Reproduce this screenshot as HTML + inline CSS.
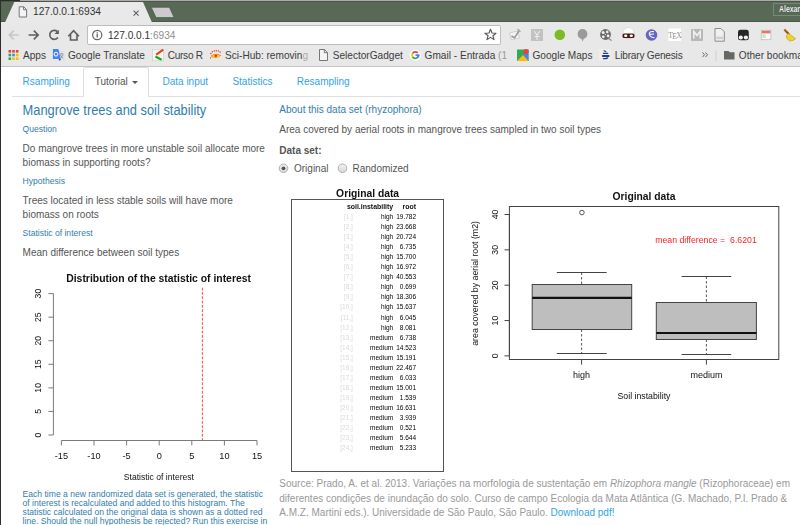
<!DOCTYPE html>
<html><head><meta charset="utf-8"><title>Rsampling</title>
<style>
html,body{margin:0;padding:0;background:#fff;overflow:hidden;width:800px;height:525px}
body{position:relative;font-family:'Liberation Sans', sans-serif;}
</style></head><body>
<div style="position:absolute;left:0px;top:0px;width:800px;height:1px;background:#afa8af"></div>
<div style="position:absolute;left:0px;top:0px;width:20px;height:1px;background:#2b2b2b"></div>
<div style="position:absolute;left:0px;top:1px;width:800px;height:21px;background:#586a56"></div>
<div style="position:absolute;left:0px;top:1px;width:800px;height:1px;background:#4a5946"></div>
<div style="position:absolute;left:0px;top:21px;width:800px;height:1px;background:#4b5a48"></div>
<div style="position:absolute;left:0px;top:22px;width:800px;height:44px;background:#e8e8e8"></div>
<div style="position:absolute;left:0px;top:66px;width:800px;height:1px;background:#c4c4c4"></div>
<svg style="position:absolute;left:0;top:0" width="800" height="30">
<polygon points="5,22.5 14.3,2 143,2 152,22.5" fill="#e9e9e9"/>
<polygon points="151.2,7.2 169.4,7.2 174.2,17.6 156,17.6" fill="#cbcbcb" stroke="#4d5c49" stroke-width="0.8"/>
<rect x="773.5" y="3.5" width="40" height="12" fill="none" stroke="#78897a" stroke-width="1"/>
</svg>
<div style="position:absolute;left:778.50px;top:4.92px;font-size:8.6px;line-height:8.6px;color:#f4f4f4;font-weight:bold;white-space:pre;text-shadow:0 0 1px #2a2a2a;transform:scaleX(0.8);transform-origin:0 0;">Alexan</div>
<svg style="position:absolute;left:18px;top:6px" width="10" height="12" viewBox="0 0 10 12">
<path d="M1.2,0.8 H5.8 L8.6,3.6 V11 H1.2 Z" fill="#f4f4f4" stroke="#777" stroke-width="1"/>
<path d="M5.6,0.8 V3.8 H8.6" fill="none" stroke="#777" stroke-width="1"/></svg>
<div style="position:absolute;left:33.00px;top:7.12px;font-size:10.2px;line-height:10.2px;color:#333;font-weight:normal;white-space:pre;">127.0.0.1:6934</div>
<svg style="position:absolute;left:133px;top:9.5px" width="7" height="7"><path d="M0.6,0.6 L5.6,5.6 M5.6,0.6 L0.6,5.6" stroke="#606060" stroke-width="1.1"/></svg>
<svg style="position:absolute;left:0;top:0" width="90" height="46">
<g fill="none" stroke-width="1.6">
<path d="M9.3,35 H18.6 M13.6,30.6 L9.3,35 L13.6,39.4" stroke="#c6c6c6"/>
<path d="M28.6,35 H38.2 M33.8,30.6 L38.2,35 L33.8,39.4" stroke="#5b605a"/>
<path d="M57.9,37.5 A4.5,4.5 0 1 1 57.4,31.6" stroke="#5b605a"/>
<path d="M68.3,36.2 L73.6,30.6 L78.9,36.2 M70.5,34.2 V40 H77 V34.2" stroke="#5b605a"/>
</g>
<path d="M58.9,29.7 V34.1 H54.5 Z" fill="#5b605a"/>
</svg>
<div style="position:absolute;left:87px;top:25px;width:414px;height:19.5px;background:#fff;border:1px solid #bdbdbd;border-radius:2px;box-sizing:border-box"></div>
<svg style="position:absolute;left:91px;top:29px" width="13" height="13"><circle cx="6.2" cy="6" r="4.6" fill="none" stroke="#666" stroke-width="1.2"/><path d="M6.2,4.5 V8.6" stroke="#555" stroke-width="1.2"/><circle cx="6.2" cy="3.3" r="0.6" fill="#555"/></svg>
<div style="position:absolute;left:108.00px;top:31.20px;font-size:10.1px;line-height:10.1px;color:#333;font-weight:normal;white-space:pre;">127.0.0.1<span style="color:#8e8e8e">:6934</span></div>
<svg style="position:absolute;left:484px;top:28px" width="13" height="13"><path d="M6.5,1.2 L8,5 L12,5.2 L8.9,7.7 L10,11.6 L6.5,9.4 L3,11.6 L4.1,7.7 L1,5.2 L5,5 Z" fill="none" stroke="#555" stroke-width="1.1" stroke-linejoin="round"/></svg>
<svg style="position:absolute;left:500px;top:24px" width="300" height="22">
<g transform="translate(514.5,11) translate(-500,0)"><path d="M-5,-2 L3,-4 L5,3 L-3,5 Z" fill="#f4f4f4" stroke="#c8c8c8" stroke-width="0.8"/><path d="M-3,1 L0,3 L5,-5" stroke="#9a9a9a" stroke-width="1.6" fill="none"/><path d="M3,-6 L6,-3" stroke="#aaa" stroke-width="1.4"/></g>
<g transform="translate(37,11)"><rect x="-6" y="-6" width="12" height="12" fill="#c2c2c2"/><path d="M-3,-4 L0,0 L3,-4 M0,0 V5 M-2.5,1.5 H2.5" stroke="#ececec" stroke-width="1.1" fill="none"/></g>
<circle cx="59.8" cy="10.8" r="5.3" fill="#7cbb26"/>
<g transform="translate(82.5,10.5)"><circle cx="0" cy="-0.5" r="4.9" fill="#9a9a9a"/><path d="M-1.5,3 L0,7 L1.8,3 Z" fill="#9a9a9a"/></g>
<g transform="translate(105.5,10.5)"><circle cx="0" cy="0" r="5.4" fill="#6a6a6a"/><circle cx="-2.3" cy="-2" r="1.5" fill="#f0f0f0"/><circle cx="1.8" cy="-2.6" r="1.3" fill="#f0f0f0"/><circle cx="-2.2" cy="2.3" r="1.4" fill="#f0f0f0"/><circle cx="2.6" cy="1.4" r="1.4" fill="#f0f0f0"/><circle cx="0" cy="0" r="0.6" fill="#f0f0f0"/><path d="M3,4 L6,6" stroke="#888" stroke-width="1.3"/></g>
<g transform="translate(128.5,11)"><path d="M-5.5,-0.5 Q-5.5,-7.5 0,-7.5 Q5.5,-7.5 5.5,-0.5 Z" fill="#fbfbfb" stroke="#cfcfcf" stroke-width="0.5"/><rect x="-6" y="-1.6" width="12" height="4.6" rx="1.6" fill="#4a1714"/><ellipse cx="-2.8" cy="0.7" rx="1.7" ry="1.2" fill="#fff"/><ellipse cx="2.8" cy="0.7" rx="1.7" ry="1.2" fill="#fff"/><path d="M-4,3 Q0,6 4,3 Z" fill="#d6d6d6"/></g>
<circle cx="151.5" cy="11" r="5.8" fill="#6464c2"/><path d="M154,7.6 Q148.5,7 149.3,10.3 Q150,13.2 154.5,13.8 M149.6,10.4 L154,10" stroke="#f4f4ff" stroke-width="1.1" fill="none"/>
<rect x="168.5" y="4.5" width="12.5" height="12.5" fill="#fff"/><text x="174.7" y="13.5" font-family="Liberation Serif" font-size="7.6" text-anchor="middle" fill="#8a8a8a" letter-spacing="-0.6">T<tspan dy="1.2">E</tspan><tspan dy="-1.2">X</tspan></text>
<rect x="191" y="5" width="12" height="12" rx="0.8" fill="#b8b8b8"/><path d="M193.8,14.5 V7.5 L197,11.5 L200.2,7.5 V14.5" stroke="#f2f2f2" stroke-width="1.5" fill="none"/>
<path d="M215,4.5 H221 L224.3,7.8 V17.2 H215 Z" fill="#f0f0f0" stroke="#8a8a8a" stroke-width="1"/><rect x="216.3" y="12.6" width="6.7" height="2.6" fill="#cfcfcf"/>
<rect x="238" y="5.7" width="10.8" height="10.6" rx="2.4" fill="#262626"/><circle cx="240.8" cy="13.5" r="2.1" fill="#f2f2f2"/><circle cx="245.9" cy="13.5" r="2.1" fill="#f2f2f2"/>
<rect x="261.3" y="6.3" width="9.6" height="9.4" fill="#fafafa" stroke="#bdbdbd" stroke-width="0.8"/><rect x="261.8" y="6.8" width="8.6" height="2.6" fill="#f07070"/><rect x="262.5" y="10.6" width="3.2" height="1" fill="#8fd88f"/><rect x="262.5" y="12.6" width="3.2" height="1" fill="#8fd88f"/>
<path d="M284.3,5.6 L288.2,9.6" stroke="#a0601a" stroke-width="2.2"/><path d="M287,8.2 L289.7,10.8" stroke="#c0392b" stroke-width="1.6"/><path d="M288.4,9.2 L291.5,11.6 L295.6,14.8 L293,16.4 L289.5,17 L286.6,14.2 L286.4,11.5 Z" fill="#ecd42c" stroke="#b89a10" stroke-width="0.6"/>
</svg>
<svg style="position:absolute;left:0;top:44px" width="800" height="22">
<g>
<rect x="8.5" y="6" width="2.6" height="2.6" fill="#e94235"/><rect x="12.2" y="6" width="2.6" height="2.6" fill="#e94235"/><rect x="15.9" y="6" width="2.6" height="2.6" fill="#e94235"/>
<rect x="8.5" y="9.7" width="2.6" height="2.6" fill="#34a853"/><rect x="12.2" y="9.7" width="2.6" height="2.6" fill="#4285f4"/><rect x="15.9" y="9.7" width="2.6" height="2.6" fill="#fbbc05"/>
<rect x="8.5" y="13.4" width="2.6" height="2.6" fill="#34a853"/><rect x="12.2" y="13.4" width="2.6" height="2.6" fill="#fbbc05"/><rect x="15.9" y="13.4" width="2.6" height="2.6" fill="#fbbc05"/>
</g>
<rect x="58.4" y="7" width="6.4" height="9.6" fill="#e2e2e2"/><path d="M60,10 H63.5 M61.8,9 V10 M60.5,11 L63,14.5 M63,11 L60.5,14.5" stroke="#8a8a8a" stroke-width="0.8" fill="none"/><path d="M52.9,5.1 H58.4 L60.8,15 H52.9 Z" fill="#4285f4"/><path d="M58.6,15 H61 L59.6,16.9 Z" fill="#2a47b8"/><circle cx="56" cy="10.2" r="1.9" fill="none" stroke="#fff" stroke-width="1"/>
<rect x="152.5" y="5.8" width="11" height="11" fill="#f6f6f0" stroke="#cfcfcf" stroke-width="0.7"/><path d="M156.2,10.6 L163.3,5.6" stroke="#e0461c" stroke-width="2.1"/><path d="M155.4,12.6 L161.6,15.8" stroke="#1eaa1e" stroke-width="2.3"/>
<g fill="#e8402a"><circle cx="210.9" cy="9.4" r="0.75"/><circle cx="212.4" cy="7.7" r="0.75"/><circle cx="214.3" cy="6.9" r="0.75"/><circle cx="216.3" cy="6.7" r="0.75"/><circle cx="218.3" cy="7.1" r="0.75"/><circle cx="220.1" cy="8.1" r="0.75"/></g><path d="M210.6,12.1 Q216,7.6 221.2,11.6 Q216,16.3 210.6,12.1 Z" fill="#f26a1b"/><ellipse cx="216" cy="11.9" rx="3.7" ry="1.7" fill="#f8d21a"/><circle cx="215.8" cy="11.8" r="1.3" fill="#d8321e"/><path d="M210.6,13 Q211,14.5 210.4,14.8" stroke="#e8402a" stroke-width="0.8" fill="none"/>
<path d="M319.5,5.5 H324.5 L327.5,8.5 V16.5 H319.5 Z" fill="#f4f4f4" stroke="#777" stroke-width="1"/><path d="M324.3,5.5 V8.7 H327.5" fill="none" stroke="#777" stroke-width="1"/>
<circle cx="415.3" cy="11.1" r="5.6" fill="#fff"/><path d="M418.55,11.67 A3.3,3.3 0 0 1 412.44,12.75" stroke="#34a853" stroke-width="1.7" fill="none"/><path d="M412.44,12.75 A3.3,3.3 0 0 1 412.60,9.21" stroke="#fbbc05" stroke-width="1.7" fill="none"/><path d="M412.60,9.21 A3.3,3.3 0 0 1 417.75,8.89" stroke="#ea4335" stroke-width="1.7" fill="none"/><path d="M418.60,10.98 A3.3,3.3 0 0 1 417.63,13.43" stroke="#4285f4" stroke-width="1.7" fill="none"/><path d="M415.50,11.10 H419.45" stroke="#4285f4" stroke-width="1.7"/>
<rect x="517" y="5.5" width="11.5" height="11.5" fill="#34a853"/><path d="M517,17 L528.5,5.5 L528.5,17 Z" fill="#4285f4"/><path d="M517,17 L523,11 L528.5,17 Z" fill="#fbbc05"/><circle cx="526" cy="7.5" r="2.6" fill="#ea4335"/>
<rect x="599.2" y="5" width="11.7" height="11.9" fill="#efefe2"/><g stroke="#1d3c9c" fill="none" stroke-linecap="round"><path d="M604,6.8 L605.8,7.6" stroke-width="1.1"/><path d="M603.4,9.3 H607.8" stroke-width="1.2"/><path d="M602.8,11.9 H608.6" stroke-width="2"/><path d="M603.4,14.6 Q606,14.9 607.6,13.9" stroke-width="1.3"/></g>
<path d="M702.5,8.5 L704.5,10.8 L702.5,13 M705.5,8.5 L707.5,10.8 L705.5,13" stroke="#666" stroke-width="1" fill="none"/>
<rect x="715.5" y="6" width="1" height="11.5" fill="#cfcfcf"/>
<path d="M724,7 H728.5 L729.8,8.3 H734.5 V15.5 H724 Z" fill="#646a62"/>
</svg>
<div style="position:absolute;left:23.00px;top:51.25px;font-size:10.1px;line-height:10.1px;color:#3c3c3c;font-weight:normal;white-space:pre;">Apps</div>
<div style="position:absolute;left:68.00px;top:51.25px;font-size:10.1px;line-height:10.1px;color:#3c3c3c;font-weight:normal;white-space:pre;">Google Translate</div>
<div style="position:absolute;left:167.70px;top:51.25px;font-size:10.1px;line-height:10.1px;color:#3c3c3c;font-weight:normal;white-space:pre;letter-spacing:-0.28px;">Curso R</div>
<div style="position:absolute;left:225.00px;top:51.25px;font-size:10.1px;line-height:10.1px;color:#3c3c3c;font-weight:normal;white-space:pre;">Sci-Hub: removin<span style="color:#aaa">g</span></div>
<div style="position:absolute;left:332.70px;top:51.25px;font-size:10.1px;line-height:10.1px;color:#3c3c3c;font-weight:normal;white-space:pre;">SelectorGadget</div>
<div style="position:absolute;left:424.60px;top:51.25px;font-size:10.1px;line-height:10.1px;color:#3c3c3c;font-weight:normal;white-space:pre;">Gmail - Entrada <span style="color:#999">(1</span></div>
<div style="position:absolute;left:532.50px;top:51.25px;font-size:10.1px;line-height:10.1px;color:#3c3c3c;font-weight:normal;white-space:pre;">Google Maps</div>
<div style="position:absolute;left:614.80px;top:51.25px;font-size:10.1px;line-height:10.1px;color:#3c3c3c;font-weight:normal;white-space:pre;letter-spacing:-0.2px;">Library Genesis</div>
<div style="position:absolute;left:738.80px;top:51.25px;font-size:10.1px;line-height:10.1px;color:#3c3c3c;font-weight:normal;white-space:pre;">Other bookmarks</div>
<div style="position:absolute;left:11.7px;top:96px;width:789px;height:1px;background:#e0e0e0"></div>
<div style="position:absolute;left:83.3px;top:66.6px;width:65.6px;height:30.4px;background:#fff;border:1px solid #ddd;border-bottom-color:#fff;border-radius:3px 3px 0 0;box-sizing:border-box"></div>
<div style="position:absolute;left:22.60px;top:76.83px;font-size:10px;line-height:10px;color:#2fa4e7;font-weight:normal;white-space:pre;">Rsampling</div>
<div style="position:absolute;left:94.80px;top:76.83px;font-size:10px;line-height:10px;color:#555;font-weight:normal;white-space:pre;">Tutorial</div>
<div style="position:absolute;left:132px;top:81px;width:0;height:0;border-left:3px solid transparent;border-right:3px solid transparent;border-top:3px solid #555"></div>
<div style="position:absolute;left:162.50px;top:76.83px;font-size:10px;line-height:10px;color:#2fa4e7;font-weight:normal;white-space:pre;">Data input</div>
<div style="position:absolute;left:232.40px;top:76.83px;font-size:10px;line-height:10px;color:#2fa4e7;font-weight:normal;white-space:pre;">Statistics</div>
<div style="position:absolute;left:296.80px;top:76.83px;font-size:10px;line-height:10px;color:#2fa4e7;font-weight:normal;white-space:pre;">Resampling</div>
<div style="position:absolute;left:22.60px;top:104.61px;font-size:12.86px;line-height:12.86px;color:#317eac;font-weight:normal;white-space:pre;transform:scaleY(1.15);transform-origin:0 84.65%;">Mangrove trees and soil stability</div>
<div style="position:absolute;left:22.60px;top:125.35px;font-size:8.57px;line-height:8.57px;color:#317eac;font-weight:normal;white-space:pre;">Question</div>
<div style="position:absolute;left:22.60px;top:143.83px;font-size:10px;line-height:10px;color:#555;font-weight:normal;white-space:pre;">Do mangrove trees in more unstable soil allocate more</div>
<div style="position:absolute;left:22.60px;top:158.13px;font-size:10px;line-height:10px;color:#555;font-weight:normal;white-space:pre;">biomass in supporting roots?</div>
<div style="position:absolute;left:22.60px;top:177.05px;font-size:8.57px;line-height:8.57px;color:#317eac;font-weight:normal;white-space:pre;">Hypothesis</div>
<div style="position:absolute;left:22.60px;top:195.88px;font-size:10px;line-height:10px;color:#555;font-weight:normal;white-space:pre;">Trees located in less stable soils will have more</div>
<div style="position:absolute;left:22.60px;top:210.23px;font-size:10px;line-height:10px;color:#555;font-weight:normal;white-space:pre;">biomass on roots</div>
<div style="position:absolute;left:22.60px;top:229.45px;font-size:8.57px;line-height:8.57px;color:#317eac;font-weight:normal;white-space:pre;">Statistic of interest</div>
<div style="position:absolute;left:22.60px;top:248.34px;font-size:10px;line-height:10px;color:#555;font-weight:normal;white-space:pre;">Mean difference between soil types</div>
<div style="position:absolute;left:22.60px;top:489.85px;font-size:8.57px;line-height:8.57px;color:#317eac;font-weight:normal;white-space:pre;">Each time a new randomized data set is generated, the statistic</div>
<div style="position:absolute;left:22.60px;top:498.95px;font-size:8.57px;line-height:8.57px;color:#317eac;font-weight:normal;white-space:pre;">of interest is recalculated and added to this histogram. The</div>
<div style="position:absolute;left:22.60px;top:508.05px;font-size:8.57px;line-height:8.57px;color:#317eac;font-weight:normal;white-space:pre;">statistic calculated on the original data is shown as a dotted red</div>
<div style="position:absolute;left:22.60px;top:517.15px;font-size:8.57px;line-height:8.57px;color:#317eac;font-weight:normal;white-space:pre;">line. Should the null hypothesis be rejected? Run this exercise in</div>
<div style="position:absolute;left:279.30px;top:105.13px;font-size:10px;line-height:10px;color:#317eac;font-weight:normal;white-space:pre;">About this data set (rhyzophora)</div>
<div style="position:absolute;left:279.30px;top:124.94px;font-size:10px;line-height:10px;color:#555;font-weight:normal;white-space:pre;">Area covered by aerial roots in mangrove trees sampled in two soil types</div>
<div style="position:absolute;left:279.30px;top:145.73px;font-size:10px;line-height:10px;color:#555;font-weight:bold;white-space:pre;">Data set:</div>
<svg style="position:absolute;left:277px;top:162px" width="72" height="13">
<defs><linearGradient id="rg" x1="0" y1="0" x2="0" y2="1"><stop offset="0" stop-color="#f2f2f2"/><stop offset="1" stop-color="#d8d8d8"/></linearGradient></defs>
<circle cx="6.5" cy="6.3" r="4.3" fill="url(#rg)" stroke="#a8a8a8" stroke-width="0.9"/><circle cx="6.5" cy="6.3" r="1.9" fill="#555"/>
<circle cx="65.5" cy="6.3" r="4.3" fill="url(#rg)" stroke="#a8a8a8" stroke-width="0.9"/>
</svg>
<div style="position:absolute;left:294.00px;top:164.03px;font-size:10px;line-height:10px;color:#555;font-weight:normal;white-space:pre;">Original</div>
<div style="position:absolute;left:352.50px;top:164.03px;font-size:10px;line-height:10px;color:#555;font-weight:normal;white-space:pre;">Randomized</div>
<div style="position:absolute;left:279.30px;top:479.04px;font-size:10px;line-height:10px;color:#999;font-weight:normal;white-space:pre;">Source: Prado, A. et al. 2013. Variações na morfologia de sustentação em <i>Rhizophora mangle</i> (Rizophoraceae) em</div>
<div style="position:absolute;left:279.30px;top:493.64px;font-size:10px;line-height:10px;color:#999;font-weight:normal;white-space:pre;">diferentes condições de inundação do solo. Curso de campo Ecologia da Mata Atlântica (G. Machado, P.I. Prado &amp;</div>
<div style="position:absolute;left:279.30px;top:508.04px;font-size:10px;line-height:10px;color:#999;font-weight:normal;white-space:pre;">A.M.Z. Martini eds.). Universidade de São Paulo, São Paulo. <span style="color:#2fa4e7">Download pdf!</span></div>
<div style="position:absolute;left:0;top:0;width:800px;height:525px;will-change:transform">
<div style="position:absolute;left:291.1px;top:199.2px;width:153.0px;height:272.6px;border:1px solid #555;box-sizing:border-box"></div>
<div style="position:absolute;left:367.60px;top:188.98px;font-size:10.3px;line-height:10.3px;color:#111;font-weight:bold;white-space:pre;transform:translateX(-50%);">Original data</div>
<div style="position:absolute;left:393.20px;top:203.72px;font-size:6.95px;line-height:6.95px;color:#111;font-weight:bold;white-space:pre;transform:translateX(-100%);">soil.instability</div>
<div style="position:absolute;left:416.10px;top:203.72px;font-size:6.95px;line-height:6.95px;color:#111;font-weight:bold;white-space:pre;transform:translateX(-100%);">root</div>
<div style="position:absolute;left:352.90px;top:214.20px;font-size:6.5px;line-height:6.5px;color:#dadada;font-weight:normal;white-space:pre;transform:translateX(-100%);">[1,]</div>
<div style="position:absolute;left:393.20px;top:214.20px;font-size:6.5px;line-height:6.5px;color:#000;font-weight:normal;white-space:pre;transform:translateX(-100%);">high</div>
<div style="position:absolute;left:416.10px;top:214.20px;font-size:6.5px;line-height:6.5px;color:#000;font-weight:normal;white-space:pre;transform:translateX(-100%);">19.782</div>
<div style="position:absolute;left:352.90px;top:224.23px;font-size:6.5px;line-height:6.5px;color:#dadada;font-weight:normal;white-space:pre;transform:translateX(-100%);">[2,]</div>
<div style="position:absolute;left:393.20px;top:224.23px;font-size:6.5px;line-height:6.5px;color:#000;font-weight:normal;white-space:pre;transform:translateX(-100%);">high</div>
<div style="position:absolute;left:416.10px;top:224.23px;font-size:6.5px;line-height:6.5px;color:#000;font-weight:normal;white-space:pre;transform:translateX(-100%);">23.668</div>
<div style="position:absolute;left:352.90px;top:234.26px;font-size:6.5px;line-height:6.5px;color:#dadada;font-weight:normal;white-space:pre;transform:translateX(-100%);">[3,]</div>
<div style="position:absolute;left:393.20px;top:234.26px;font-size:6.5px;line-height:6.5px;color:#000;font-weight:normal;white-space:pre;transform:translateX(-100%);">high</div>
<div style="position:absolute;left:416.10px;top:234.26px;font-size:6.5px;line-height:6.5px;color:#000;font-weight:normal;white-space:pre;transform:translateX(-100%);">20.724</div>
<div style="position:absolute;left:352.90px;top:244.29px;font-size:6.5px;line-height:6.5px;color:#dadada;font-weight:normal;white-space:pre;transform:translateX(-100%);">[4,]</div>
<div style="position:absolute;left:393.20px;top:244.29px;font-size:6.5px;line-height:6.5px;color:#000;font-weight:normal;white-space:pre;transform:translateX(-100%);">high</div>
<div style="position:absolute;left:416.10px;top:244.29px;font-size:6.5px;line-height:6.5px;color:#000;font-weight:normal;white-space:pre;transform:translateX(-100%);">6.735</div>
<div style="position:absolute;left:352.90px;top:254.32px;font-size:6.5px;line-height:6.5px;color:#dadada;font-weight:normal;white-space:pre;transform:translateX(-100%);">[5,]</div>
<div style="position:absolute;left:393.20px;top:254.32px;font-size:6.5px;line-height:6.5px;color:#000;font-weight:normal;white-space:pre;transform:translateX(-100%);">high</div>
<div style="position:absolute;left:416.10px;top:254.32px;font-size:6.5px;line-height:6.5px;color:#000;font-weight:normal;white-space:pre;transform:translateX(-100%);">15.700</div>
<div style="position:absolute;left:352.90px;top:264.35px;font-size:6.5px;line-height:6.5px;color:#dadada;font-weight:normal;white-space:pre;transform:translateX(-100%);">[6,]</div>
<div style="position:absolute;left:393.20px;top:264.35px;font-size:6.5px;line-height:6.5px;color:#000;font-weight:normal;white-space:pre;transform:translateX(-100%);">high</div>
<div style="position:absolute;left:416.10px;top:264.35px;font-size:6.5px;line-height:6.5px;color:#000;font-weight:normal;white-space:pre;transform:translateX(-100%);">16.972</div>
<div style="position:absolute;left:352.90px;top:274.38px;font-size:6.5px;line-height:6.5px;color:#dadada;font-weight:normal;white-space:pre;transform:translateX(-100%);">[7,]</div>
<div style="position:absolute;left:393.20px;top:274.38px;font-size:6.5px;line-height:6.5px;color:#000;font-weight:normal;white-space:pre;transform:translateX(-100%);">high</div>
<div style="position:absolute;left:416.10px;top:274.38px;font-size:6.5px;line-height:6.5px;color:#000;font-weight:normal;white-space:pre;transform:translateX(-100%);">40.553</div>
<div style="position:absolute;left:352.90px;top:284.41px;font-size:6.5px;line-height:6.5px;color:#dadada;font-weight:normal;white-space:pre;transform:translateX(-100%);">[8,]</div>
<div style="position:absolute;left:393.20px;top:284.41px;font-size:6.5px;line-height:6.5px;color:#000;font-weight:normal;white-space:pre;transform:translateX(-100%);">high</div>
<div style="position:absolute;left:416.10px;top:284.41px;font-size:6.5px;line-height:6.5px;color:#000;font-weight:normal;white-space:pre;transform:translateX(-100%);">0.699</div>
<div style="position:absolute;left:352.90px;top:294.44px;font-size:6.5px;line-height:6.5px;color:#dadada;font-weight:normal;white-space:pre;transform:translateX(-100%);">[9,]</div>
<div style="position:absolute;left:393.20px;top:294.44px;font-size:6.5px;line-height:6.5px;color:#000;font-weight:normal;white-space:pre;transform:translateX(-100%);">high</div>
<div style="position:absolute;left:416.10px;top:294.44px;font-size:6.5px;line-height:6.5px;color:#000;font-weight:normal;white-space:pre;transform:translateX(-100%);">18.306</div>
<div style="position:absolute;left:352.90px;top:304.47px;font-size:6.5px;line-height:6.5px;color:#dadada;font-weight:normal;white-space:pre;transform:translateX(-100%);">[10,]</div>
<div style="position:absolute;left:393.20px;top:304.47px;font-size:6.5px;line-height:6.5px;color:#000;font-weight:normal;white-space:pre;transform:translateX(-100%);">high</div>
<div style="position:absolute;left:416.10px;top:304.47px;font-size:6.5px;line-height:6.5px;color:#000;font-weight:normal;white-space:pre;transform:translateX(-100%);">15.637</div>
<div style="position:absolute;left:352.90px;top:314.50px;font-size:6.5px;line-height:6.5px;color:#dadada;font-weight:normal;white-space:pre;transform:translateX(-100%);">[11,]</div>
<div style="position:absolute;left:393.20px;top:314.50px;font-size:6.5px;line-height:6.5px;color:#000;font-weight:normal;white-space:pre;transform:translateX(-100%);">high</div>
<div style="position:absolute;left:416.10px;top:314.50px;font-size:6.5px;line-height:6.5px;color:#000;font-weight:normal;white-space:pre;transform:translateX(-100%);">6.045</div>
<div style="position:absolute;left:352.90px;top:324.53px;font-size:6.5px;line-height:6.5px;color:#dadada;font-weight:normal;white-space:pre;transform:translateX(-100%);">[12,]</div>
<div style="position:absolute;left:393.20px;top:324.53px;font-size:6.5px;line-height:6.5px;color:#000;font-weight:normal;white-space:pre;transform:translateX(-100%);">high</div>
<div style="position:absolute;left:416.10px;top:324.53px;font-size:6.5px;line-height:6.5px;color:#000;font-weight:normal;white-space:pre;transform:translateX(-100%);">8.081</div>
<div style="position:absolute;left:352.90px;top:334.56px;font-size:6.5px;line-height:6.5px;color:#dadada;font-weight:normal;white-space:pre;transform:translateX(-100%);">[13,]</div>
<div style="position:absolute;left:393.20px;top:334.56px;font-size:6.5px;line-height:6.5px;color:#000;font-weight:normal;white-space:pre;transform:translateX(-100%);">medium</div>
<div style="position:absolute;left:416.10px;top:334.56px;font-size:6.5px;line-height:6.5px;color:#000;font-weight:normal;white-space:pre;transform:translateX(-100%);">6.738</div>
<div style="position:absolute;left:352.90px;top:344.59px;font-size:6.5px;line-height:6.5px;color:#dadada;font-weight:normal;white-space:pre;transform:translateX(-100%);">[14,]</div>
<div style="position:absolute;left:393.20px;top:344.59px;font-size:6.5px;line-height:6.5px;color:#000;font-weight:normal;white-space:pre;transform:translateX(-100%);">medium</div>
<div style="position:absolute;left:416.10px;top:344.59px;font-size:6.5px;line-height:6.5px;color:#000;font-weight:normal;white-space:pre;transform:translateX(-100%);">14.523</div>
<div style="position:absolute;left:352.90px;top:354.62px;font-size:6.5px;line-height:6.5px;color:#dadada;font-weight:normal;white-space:pre;transform:translateX(-100%);">[15,]</div>
<div style="position:absolute;left:393.20px;top:354.62px;font-size:6.5px;line-height:6.5px;color:#000;font-weight:normal;white-space:pre;transform:translateX(-100%);">medium</div>
<div style="position:absolute;left:416.10px;top:354.62px;font-size:6.5px;line-height:6.5px;color:#000;font-weight:normal;white-space:pre;transform:translateX(-100%);">15.191</div>
<div style="position:absolute;left:352.90px;top:364.65px;font-size:6.5px;line-height:6.5px;color:#dadada;font-weight:normal;white-space:pre;transform:translateX(-100%);">[16,]</div>
<div style="position:absolute;left:393.20px;top:364.65px;font-size:6.5px;line-height:6.5px;color:#000;font-weight:normal;white-space:pre;transform:translateX(-100%);">medium</div>
<div style="position:absolute;left:416.10px;top:364.65px;font-size:6.5px;line-height:6.5px;color:#000;font-weight:normal;white-space:pre;transform:translateX(-100%);">22.467</div>
<div style="position:absolute;left:352.90px;top:374.68px;font-size:6.5px;line-height:6.5px;color:#dadada;font-weight:normal;white-space:pre;transform:translateX(-100%);">[17,]</div>
<div style="position:absolute;left:393.20px;top:374.68px;font-size:6.5px;line-height:6.5px;color:#000;font-weight:normal;white-space:pre;transform:translateX(-100%);">medium</div>
<div style="position:absolute;left:416.10px;top:374.68px;font-size:6.5px;line-height:6.5px;color:#000;font-weight:normal;white-space:pre;transform:translateX(-100%);">6.033</div>
<div style="position:absolute;left:352.90px;top:384.71px;font-size:6.5px;line-height:6.5px;color:#dadada;font-weight:normal;white-space:pre;transform:translateX(-100%);">[18,]</div>
<div style="position:absolute;left:393.20px;top:384.71px;font-size:6.5px;line-height:6.5px;color:#000;font-weight:normal;white-space:pre;transform:translateX(-100%);">medium</div>
<div style="position:absolute;left:416.10px;top:384.71px;font-size:6.5px;line-height:6.5px;color:#000;font-weight:normal;white-space:pre;transform:translateX(-100%);">15.001</div>
<div style="position:absolute;left:352.90px;top:394.74px;font-size:6.5px;line-height:6.5px;color:#dadada;font-weight:normal;white-space:pre;transform:translateX(-100%);">[19,]</div>
<div style="position:absolute;left:393.20px;top:394.74px;font-size:6.5px;line-height:6.5px;color:#000;font-weight:normal;white-space:pre;transform:translateX(-100%);">medium</div>
<div style="position:absolute;left:416.10px;top:394.74px;font-size:6.5px;line-height:6.5px;color:#000;font-weight:normal;white-space:pre;transform:translateX(-100%);">1.539</div>
<div style="position:absolute;left:352.90px;top:404.77px;font-size:6.5px;line-height:6.5px;color:#dadada;font-weight:normal;white-space:pre;transform:translateX(-100%);">[20,]</div>
<div style="position:absolute;left:393.20px;top:404.77px;font-size:6.5px;line-height:6.5px;color:#000;font-weight:normal;white-space:pre;transform:translateX(-100%);">medium</div>
<div style="position:absolute;left:416.10px;top:404.77px;font-size:6.5px;line-height:6.5px;color:#000;font-weight:normal;white-space:pre;transform:translateX(-100%);">16.631</div>
<div style="position:absolute;left:352.90px;top:414.80px;font-size:6.5px;line-height:6.5px;color:#dadada;font-weight:normal;white-space:pre;transform:translateX(-100%);">[21,]</div>
<div style="position:absolute;left:393.20px;top:414.80px;font-size:6.5px;line-height:6.5px;color:#000;font-weight:normal;white-space:pre;transform:translateX(-100%);">medium</div>
<div style="position:absolute;left:416.10px;top:414.80px;font-size:6.5px;line-height:6.5px;color:#000;font-weight:normal;white-space:pre;transform:translateX(-100%);">3.939</div>
<div style="position:absolute;left:352.90px;top:424.83px;font-size:6.5px;line-height:6.5px;color:#dadada;font-weight:normal;white-space:pre;transform:translateX(-100%);">[22,]</div>
<div style="position:absolute;left:393.20px;top:424.83px;font-size:6.5px;line-height:6.5px;color:#000;font-weight:normal;white-space:pre;transform:translateX(-100%);">medium</div>
<div style="position:absolute;left:416.10px;top:424.83px;font-size:6.5px;line-height:6.5px;color:#000;font-weight:normal;white-space:pre;transform:translateX(-100%);">0.521</div>
<div style="position:absolute;left:352.90px;top:434.86px;font-size:6.5px;line-height:6.5px;color:#dadada;font-weight:normal;white-space:pre;transform:translateX(-100%);">[23,]</div>
<div style="position:absolute;left:393.20px;top:434.86px;font-size:6.5px;line-height:6.5px;color:#000;font-weight:normal;white-space:pre;transform:translateX(-100%);">medium</div>
<div style="position:absolute;left:416.10px;top:434.86px;font-size:6.5px;line-height:6.5px;color:#000;font-weight:normal;white-space:pre;transform:translateX(-100%);">5.644</div>
<div style="position:absolute;left:352.90px;top:444.89px;font-size:6.5px;line-height:6.5px;color:#dadada;font-weight:normal;white-space:pre;transform:translateX(-100%);">[24,]</div>
<div style="position:absolute;left:393.20px;top:444.89px;font-size:6.5px;line-height:6.5px;color:#000;font-weight:normal;white-space:pre;transform:translateX(-100%);">medium</div>
<div style="position:absolute;left:416.10px;top:444.89px;font-size:6.5px;line-height:6.5px;color:#000;font-weight:normal;white-space:pre;transform:translateX(-100%);">5.233</div>
<svg style="position:absolute;left:0;top:0" width="800" height="525"><text x="158.6" y="281.7" font-family="Liberation Sans" font-weight="bold" font-size="10.4" text-anchor="middle" fill="#111">Distribution of the statistic of interest</text><line x1="53.4" y1="435.00" x2="53.4" y2="293.60" stroke="#7a7a7a" stroke-width="1"/><line x1="48.4" y1="435.00" x2="53.4" y2="435.00" stroke="#7a7a7a" stroke-width="1"/><text transform="translate(41.2,435.00) rotate(-90)" font-family="Liberation Sans" font-size="8.6" text-anchor="middle" fill="#111">0</text><line x1="48.4" y1="411.43" x2="53.4" y2="411.43" stroke="#7a7a7a" stroke-width="1"/><text transform="translate(41.2,411.43) rotate(-90)" font-family="Liberation Sans" font-size="8.6" text-anchor="middle" fill="#111">5</text><line x1="48.4" y1="387.87" x2="53.4" y2="387.87" stroke="#7a7a7a" stroke-width="1"/><text transform="translate(41.2,387.87) rotate(-90)" font-family="Liberation Sans" font-size="8.6" text-anchor="middle" fill="#111">10</text><line x1="48.4" y1="364.30" x2="53.4" y2="364.30" stroke="#7a7a7a" stroke-width="1"/><text transform="translate(41.2,364.30) rotate(-90)" font-family="Liberation Sans" font-size="8.6" text-anchor="middle" fill="#111">15</text><line x1="48.4" y1="340.73" x2="53.4" y2="340.73" stroke="#7a7a7a" stroke-width="1"/><text transform="translate(41.2,340.73) rotate(-90)" font-family="Liberation Sans" font-size="8.6" text-anchor="middle" fill="#111">20</text><line x1="48.4" y1="317.17" x2="53.4" y2="317.17" stroke="#7a7a7a" stroke-width="1"/><text transform="translate(41.2,317.17) rotate(-90)" font-family="Liberation Sans" font-size="8.6" text-anchor="middle" fill="#111">25</text><line x1="48.4" y1="293.60" x2="53.4" y2="293.60" stroke="#7a7a7a" stroke-width="1"/><text transform="translate(41.2,293.60) rotate(-90)" font-family="Liberation Sans" font-size="8.6" text-anchor="middle" fill="#111">30</text><line x1="61.40" y1="440.5" x2="257.00" y2="440.5" stroke="#7a7a7a" stroke-width="1"/><line x1="61.40" y1="440.5" x2="61.40" y2="445.4" stroke="#7a7a7a" stroke-width="1"/><text x="61.40" y="458.6" font-family="Liberation Sans" font-size="9.2" text-anchor="middle" fill="#111">-15</text><line x1="94.00" y1="440.5" x2="94.00" y2="445.4" stroke="#7a7a7a" stroke-width="1"/><text x="94.00" y="458.6" font-family="Liberation Sans" font-size="9.2" text-anchor="middle" fill="#111">-10</text><line x1="126.60" y1="440.5" x2="126.60" y2="445.4" stroke="#7a7a7a" stroke-width="1"/><text x="126.60" y="458.6" font-family="Liberation Sans" font-size="9.2" text-anchor="middle" fill="#111">-5</text><line x1="159.20" y1="440.5" x2="159.20" y2="445.4" stroke="#7a7a7a" stroke-width="1"/><text x="159.20" y="458.6" font-family="Liberation Sans" font-size="9.2" text-anchor="middle" fill="#111">0</text><line x1="191.80" y1="440.5" x2="191.80" y2="445.4" stroke="#7a7a7a" stroke-width="1"/><text x="191.80" y="458.6" font-family="Liberation Sans" font-size="9.2" text-anchor="middle" fill="#111">5</text><line x1="224.40" y1="440.5" x2="224.40" y2="445.4" stroke="#7a7a7a" stroke-width="1"/><text x="224.40" y="458.6" font-family="Liberation Sans" font-size="9.2" text-anchor="middle" fill="#111">10</text><line x1="257.00" y1="440.5" x2="257.00" y2="445.4" stroke="#7a7a7a" stroke-width="1"/><text x="257.00" y="458.6" font-family="Liberation Sans" font-size="9.2" text-anchor="middle" fill="#111">15</text><text x="158.9" y="479.6" font-family="Liberation Sans" font-size="8.6" text-anchor="middle" fill="#111">Statistic of interest</text><line x1="202.36" y1="287.7" x2="202.36" y2="440" stroke="#ff4545" stroke-width="1" stroke-dasharray="2.8,1.5"/><text x="644" y="200.3" font-family="Liberation Sans" font-weight="bold" font-size="10.3" text-anchor="middle" fill="#111">Original data</text><rect x="509.4" y="206.5" width="269.4" height="153" fill="none" stroke="#444" stroke-width="1"/><line x1="504.5" y1="355.90" x2="509.4" y2="355.90" stroke="#444" stroke-width="1"/><text transform="translate(497.8,355.90) rotate(-90)" font-family="Liberation Sans" font-size="8.7" text-anchor="middle" fill="#111">0</text><line x1="504.5" y1="320.55" x2="509.4" y2="320.55" stroke="#444" stroke-width="1"/><text transform="translate(497.8,320.55) rotate(-90)" font-family="Liberation Sans" font-size="8.7" text-anchor="middle" fill="#111">10</text><line x1="504.5" y1="285.20" x2="509.4" y2="285.20" stroke="#444" stroke-width="1"/><text transform="translate(497.8,285.20) rotate(-90)" font-family="Liberation Sans" font-size="8.7" text-anchor="middle" fill="#111">20</text><line x1="504.5" y1="249.85" x2="509.4" y2="249.85" stroke="#444" stroke-width="1"/><text transform="translate(497.8,249.85) rotate(-90)" font-family="Liberation Sans" font-size="8.7" text-anchor="middle" fill="#111">30</text><line x1="504.5" y1="214.50" x2="509.4" y2="214.50" stroke="#444" stroke-width="1"/><text transform="translate(497.8,214.50) rotate(-90)" font-family="Liberation Sans" font-size="8.7" text-anchor="middle" fill="#111">40</text><line x1="509.4" y1="355.90" x2="509.4" y2="214.50" stroke="#444" stroke-width="1"/><text transform="translate(477.6,283.4) rotate(-90)" font-family="Liberation Sans" font-size="8.77" text-anchor="middle" fill="#111">area covered by aerial root (m2)</text><line x1="581.6" y1="272.50" x2="581.6" y2="284.50" stroke="#444" stroke-width="0.9" stroke-dasharray="2.5,2"/><line x1="581.6" y1="329.50" x2="581.6" y2="353.50" stroke="#444" stroke-width="0.9" stroke-dasharray="2.5,2"/><line x1="556.8" y1="272.50" x2="606.7" y2="272.50" stroke="#444" stroke-width="1"/><line x1="556.8" y1="353.50" x2="606.7" y2="353.50" stroke="#444" stroke-width="1"/><rect x="532.2" y="284.50" width="99.50" height="45.00" fill="#bebebe" stroke="#444" stroke-width="1"/><line x1="532.2" y1="297.90" x2="631.7" y2="297.90" stroke="#111" stroke-width="2.2"/><line x1="706.4" y1="276.50" x2="706.4" y2="302.50" stroke="#444" stroke-width="0.9" stroke-dasharray="2.5,2"/><line x1="706.4" y1="339.50" x2="706.4" y2="354.50" stroke="#444" stroke-width="0.9" stroke-dasharray="2.5,2"/><line x1="681.6" y1="276.50" x2="731.2" y2="276.50" stroke="#444" stroke-width="1"/><line x1="681.6" y1="354.50" x2="731.2" y2="354.50" stroke="#444" stroke-width="1"/><rect x="656.3" y="302.50" width="100.10" height="37.00" fill="#bebebe" stroke="#444" stroke-width="1"/><line x1="656.3" y1="333.00" x2="756.4" y2="333.00" stroke="#111" stroke-width="2.2"/><circle cx="581.9" cy="212.55" r="2.3" fill="none" stroke="#444" stroke-width="0.9"/><line x1="581.6" y1="359.5" x2="581.6" y2="364.6" stroke="#444" stroke-width="1"/><line x1="706.4" y1="359.5" x2="706.4" y2="364.6" stroke="#444" stroke-width="1"/><text x="581.6" y="378" font-family="Liberation Sans" font-size="9" text-anchor="middle" fill="#111">high</text><text x="706.5" y="378" font-family="Liberation Sans" font-size="9" text-anchor="middle" fill="#111">medium</text><text x="644" y="399" font-family="Liberation Sans" font-size="8.75" text-anchor="middle" fill="#111">Soil instability</text><text x="655.2" y="243.2" font-family="Liberation Sans" font-size="8.74" fill="#f22" xml:space="preserve">mean difference =  6.6201</text></svg>
</div>
<div style="position:absolute;left:0px;top:0px;width:1px;height:525px;background:#2e2e2e"></div>
</body></html>
